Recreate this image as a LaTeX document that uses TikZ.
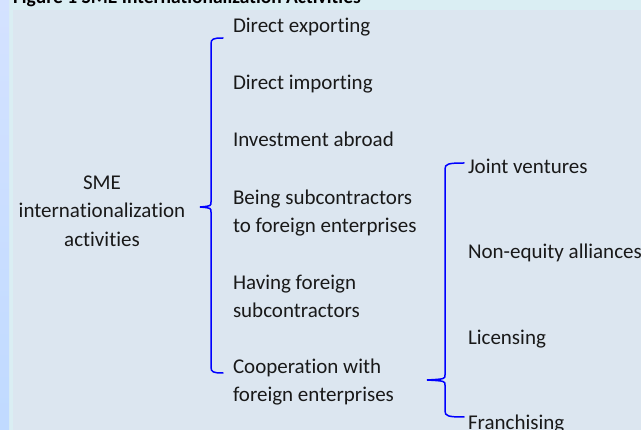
\documentclass[tikz,border=0pt]{standalone}
\usepackage{fontspec}
\setmainfont{Carlito}[Ligatures=NoCommon]
\definecolor{panel}{RGB}{220,230,240}
\definecolor{band}{RGB}{218,238,243}
\definecolor{striptop}{RGB}{212,226,255}
\definecolor{stripbot}{RGB}{192,218,255}
\definecolor{bracecol}{RGB}{0,0,255}
\begin{document}
\begin{tikzpicture}[x=1pt,y=-1pt,every node/.style={inner sep=0,outer sep=0,font=\fontsize{21}{28.35}\selectfont,text=black!90},
	brace/.style={draw=bracecol,line width=1.5pt,line cap=round}]
	\clip (0,0) rectangle (641,430);
	\fill[band] (0,0) rectangle (641,430);
	\shade[top color=striptop,bottom color=stripbot] (0,0) rectangle (9,430);
	\fill[panel] (13,10) rectangle (641,430);
	\node[anchor=base west,font=\fontsize{19.5}{24}\selectfont\bfseries,text=black] (title) at (13,4) {Figure 1 SME Internationalization Activities};
	% root
	\node[align=center] (sme) at (102,211) {SME\\internationalization\\activities};
	% first level
	\node[anchor=base west] (exp) at (233,33) {Direct exporting};
	\node[anchor=base west] (imp) at (233,90) {Direct importing};
	\node[anchor=base west] (inv) at (233,147) {Investment abroad};
	\node[anchor=base west,align=left] (sub) at (233,232.5) {Being subcontractors\\to foreign enterprises};
	\node[anchor=base west,align=left] (hav) at (233,317.5) {Having foreign\\subcontractors};
	\node[anchor=base west,align=left] (coop) at (233,401.5) {Cooperation with\\foreign enterprises};
	% second level
	\node[anchor=base west] (jv) at (468,174) {Joint ventures};
	\node[anchor=base west] (nea) at (468,259) {Non-equity alliances};
	\node[anchor=base west] (lic) at (468,345) {Licensing};
	\node[anchor=base west] (fra) at (468,430) {Franchising};
	% braces
	\coordinate (tipA) at (200,207);
	\coordinate (tipB) at (427,380);
	\draw[brace] (223,38) .. controls (213,38) and (211,39) .. (211,44) -- (211,202)
		.. controls (211,206) .. (tipA) .. controls (211,208) .. (211,212) -- (211,367)
		.. controls (211,372) and (213,373) .. (223,373);
	\draw[brace] (464,163) .. controls (448,163) and (445,164) .. (445,169) -- (445,375)
		.. controls (445,379) .. (tipB) .. controls (445,381) .. (445,385) -- (445,411)
		.. controls (445,416) and (448,417) .. (464,417);
\end{tikzpicture}
\end{document}
